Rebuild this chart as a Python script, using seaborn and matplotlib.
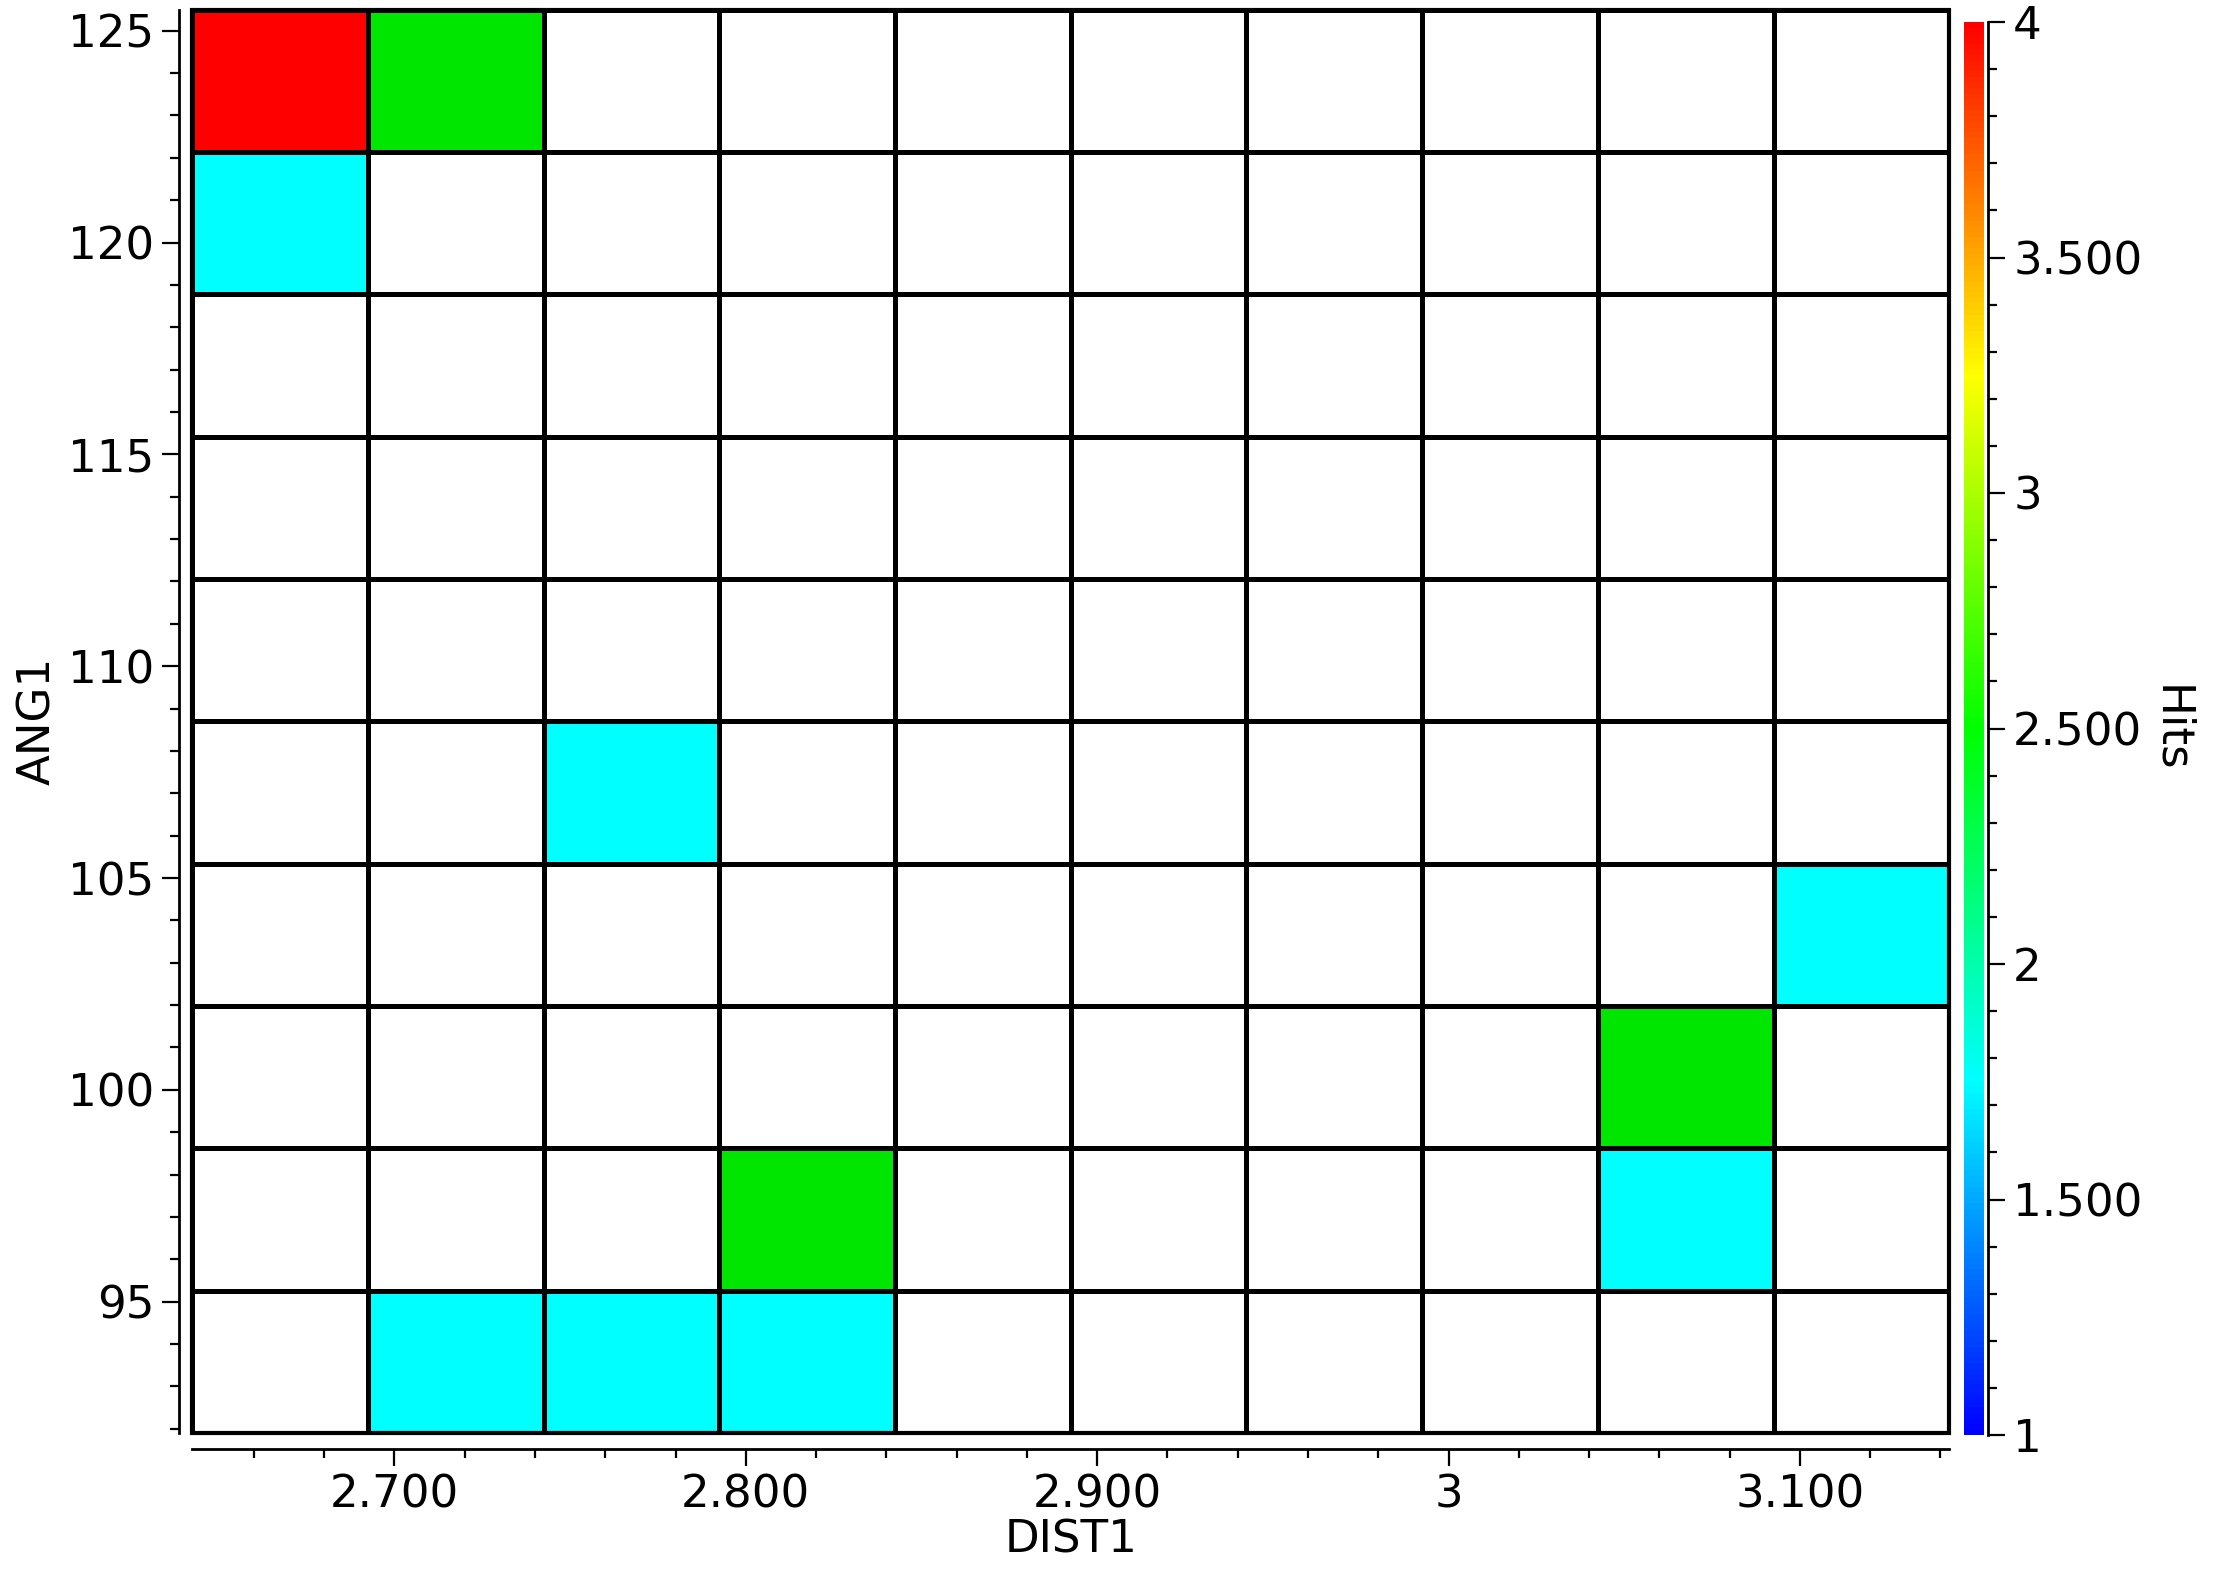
import numpy as np
import pandas as pd
import matplotlib
matplotlib.use('Agg')
import matplotlib.pyplot as plt
import seaborn as sns
from matplotlib.colors import ListedColormap, LinearSegmentedColormap, Normalize
from matplotlib.cm import ScalarMappable
from matplotlib.ticker import FixedLocator, FuncFormatter
from matplotlib.patches import Rectangle

# Bin edges (DIST1 left -> right, ANG1 bottom -> top)
dist_edges = [2.6425, 2.6925, 2.7425, 2.7925, 2.8425, 2.8925, 2.9425, 2.9925, 3.0425, 3.0925, 3.1425]
ang_edges = [91.88, 95.24, 98.60, 101.97, 105.33, 108.69, 112.05, 115.41, 118.78, 122.14, 125.50]

# Non-empty cells: DIST1 bin, ANG1 bin (0 = lowest), hits
hit_col = [1, 2, 3, 3, 8, 8, 9, 2, 0, 0, 1]
hit_row = [0, 0, 0, 1, 1, 2, 3, 4, 8, 9, 9]
hit_val = [2, 2, 2, 3, 2, 3, 2, 2, 2, 4, 3]

# Axis ticks
dist_major = [2.7, 2.8, 2.9, 3.0, 3.1]
dist_minor = [2.66, 2.68, 2.72, 2.74, 2.76, 2.78, 2.82, 2.84, 2.86, 2.88,
              2.92, 2.94, 2.96, 2.98, 3.02, 3.04, 3.06, 3.08, 3.12, 3.14]
ang_major = [95, 100, 105, 110, 115, 120, 125]
ang_minor = [92, 93, 94, 96, 97, 98, 99, 101, 102, 103, 104, 106, 107, 108, 109,
             111, 112, 113, 114, 116, 117, 118, 119, 121, 122, 123, 124]
hits_major = [1, 1.5, 2, 2.5, 3, 3.5, 4]
hits_minor = [1.1, 1.2, 1.3, 1.4, 1.6, 1.7, 1.8, 1.9, 2.1, 2.2, 2.3, 2.4, 2.6, 2.7,
              2.8, 2.9, 3.1, 3.2, 3.3, 3.4, 3.6, 3.7, 3.8, 3.9]

# Build the 2D hit grid, top row first for the heatmap
grid = np.zeros((len(ang_edges) - 1, len(dist_edges) - 1))
for c, r, v in zip(hit_col, hit_row, hit_val):
    grid[r, c] = v
df = pd.DataFrame(grid[::-1])

def fmt(v, pos=None):
    if abs(v - round(v)) < 1e-9:
        return '%d' % round(v)
    return '%.3f' % v

sns.set_style('white')
plt.rcParams['font.family'] = ['DejaVu Sans']
plt.rcParams['text.color'] = 'black'
plt.rcParams['axes.labelcolor'] = 'black'
plt.rcParams['xtick.color'] = 'black'
plt.rcParams['ytick.color'] = 'black'
fs = 32.5

fig = plt.figure(figsize=(22.18, 15.78), dpi=100)
ax = fig.add_axes([192.4 / 2218, 1 - 1433 / 1578, (1949.2 - 192.4) / 2218, (1433 - 9.5) / 1578])

# Cell colours: empty, (1), 2, 3, 4
cell_cmap = ListedColormap(['white', '#0000ff', '#00ffff', '#00e600', '#ff0000'])
sns.heatmap(df, ax=ax, cmap=cell_cmap, vmin=-0.5, vmax=4.5, cbar=False,
            linewidths=2.3, linecolor='black')

# Map real values onto the heatmap cell coordinates
dx = dist_edges[1] - dist_edges[0]
dy = ang_edges[1] - ang_edges[0]
xpos = lambda v: (v - dist_edges[0]) / dx
ypos = lambda v: (ang_edges[-1] - v) / dy

ax.xaxis.set_major_locator(FixedLocator([xpos(v) for v in dist_major]))
ax.xaxis.set_minor_locator(FixedLocator([xpos(v) for v in dist_minor]))
ax.set_xticklabels([fmt(v) for v in dist_major], rotation=0)
ax.yaxis.set_major_locator(FixedLocator([ypos(v) for v in ang_major]))
ax.yaxis.set_minor_locator(FixedLocator([ypos(v) for v in ang_minor]))
ax.set_yticklabels([fmt(v) for v in ang_major], rotation=0)

for side, off in [('left', 9.5), ('bottom', 11.5)]:
    ax.spines[side].set_visible(True)
    ax.spines[side].set_position(('outward', off))
    ax.spines[side].set_linewidth(2.0)
    ax.spines[side].set_color('black')
ax.tick_params(which='major', length=12, width=1.6, labelsize=fs, colors='black', pad=6,
               bottom=True, left=True)
ax.tick_params(which='minor', length=6.5, width=1.6, color='black', bottom=True, left=True)
ax.set_xlabel('DIST1', fontsize=fs, labelpad=1)
ax.set_ylabel('ANG1', fontsize=fs, labelpad=6)
ax.add_patch(Rectangle((0, 0), 1, 1, transform=ax.transAxes, fill=False,
                       edgecolor='black', linewidth=3.0, clip_on=False, zorder=5))

# Colour bar (blue -> cyan -> green -> yellow -> red)
bar_cmap = LinearSegmentedColormap.from_list(
    'hits', ['#0000ff', '#00ffff', '#00ff00', '#ffff00', '#ff0000'])
cax = fig.add_axes([1964 / 2218, 1 - 1435 / 1578, 20 / 2218, (1435 - 22) / 1578])
sm = ScalarMappable(norm=Normalize(vmin=1, vmax=4), cmap=bar_cmap)
cbar = fig.colorbar(sm, cax=cax)
cbar.outline.set_visible(False)
cax.spines['right'].set_visible(True)
cax.spines['right'].set_position(('outward', 3))
cax.spines['right'].set_linewidth(2.0)
cax.spines['right'].set_color('black')
cax.yaxis.set_major_locator(FixedLocator(hits_major))
cax.yaxis.set_minor_locator(FixedLocator(hits_minor))
cax.yaxis.set_major_formatter(FuncFormatter(fmt))
cax.tick_params(which='major', length=12, width=1.6, labelsize=fs, colors='black', pad=6)
cax.tick_params(which='minor', length=6.5, width=1.6, color='black')
cbar.set_label('Hits', fontsize=fs, rotation=270, labelpad=36, color='black')

plt.savefig('out.png', dpi=100)
